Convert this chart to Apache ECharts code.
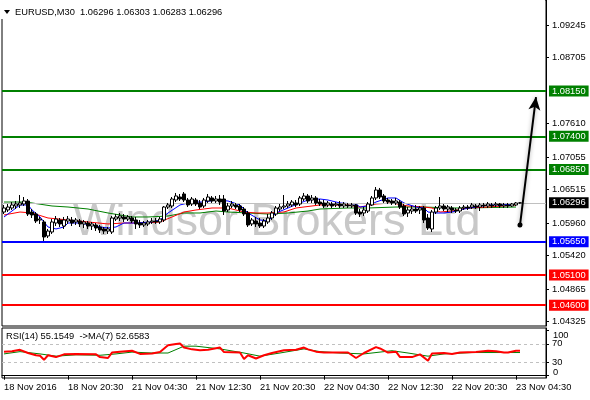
<!DOCTYPE html>
<html><head><meta charset="utf-8">
<script src="https://cdn.jsdelivr.net/npm/echarts@6/dist/echarts.min.js"></script>
<style>html,body{margin:0;padding:0;background:#fff}#c{width:590px;height:400px}</style>
</head><body><div id="c"></div>
<script>
// ---- data ----
const tickLabels = ["18 Nov 2016","18 Nov 20:30","21 Nov 04:30","21 Nov 12:30","21 Nov 20:30","22 Nov 04:30","22 Nov 12:30","22 Nov 20:30","23 Nov 04:30"];
const opens = [1.06144,1.06178,1.06211,1.06244,1.06261,1.06277,1.06327,1.06144,1.06111,1.06012,
1.05979,1.05747,1.05813,1.05962,1.06012,1.05912,1.05995,1.06012,1.05979,1.05995,
1.05946,1.05962,1.05912,1.05929,1.05896,1.05863,1.05829,1.05813,1.06028,1.06045,
1.06062,1.06028,1.06045,1.06012,1.05962,1.05929,1.05946,1.05979,1.05995,1.05979,
1.06012,1.06227,1.06244,1.06343,1.06393,1.06443,1.06343,1.06277,1.06343,1.06294,
1.06244,1.06327,1.06377,1.06327,1.06360,1.06360,1.06178,1.06244,1.06261,1.06244,
1.06194,1.06128,1.05946,1.05995,1.05962,1.05912,1.05979,1.06045,1.06111,1.06194,
1.06227,1.06244,1.06261,1.06294,1.06277,1.06360,1.06410,1.06343,1.06377,1.06310,
1.06294,1.06261,1.06277,1.06261,1.06277,1.06244,1.06261,1.06244,1.06261,1.06144,
1.06128,1.06161,1.06261,1.06377,1.06509,1.06410,1.06343,1.06327,1.06294,1.06310,
1.06244,1.06128,1.06161,1.06194,1.06178,1.06211,1.06045,1.05863,1.06144,1.06211,
1.06244,1.06194,1.06211,1.06178,1.06161,1.06211,1.06227,1.06227,1.06244,1.06227,
1.06261,1.06244,1.06261,1.06261,1.06277,1.06244,1.06261,1.06244,1.06261,1.06296];
const closes = [1.06211,1.06227,1.06261,1.06277,1.06294,1.06327,1.06111,1.06095,1.05995,1.06028,
1.05730,1.05829,1.05979,1.06028,1.05946,1.06012,1.06028,1.05962,1.06012,1.05946,
1.05979,1.05912,1.05946,1.05879,1.05846,1.05829,1.05863,1.06045,1.06062,1.06078,
1.06028,1.06062,1.05995,1.05946,1.05929,1.05962,1.05979,1.05995,1.05979,1.06028,
1.06227,1.06261,1.06360,1.06410,1.06360,1.06343,1.06261,1.06360,1.06277,1.06227,
1.06343,1.06393,1.06327,1.06360,1.06310,1.06161,1.06244,1.06277,1.06227,1.06178,
1.06111,1.05929,1.06012,1.05946,1.05912,1.05995,1.06045,1.06128,1.06211,1.06227,
1.06244,1.06277,1.06310,1.06261,1.06377,1.06410,1.06327,1.06377,1.06294,1.06277,
1.06244,1.06294,1.06244,1.06277,1.06244,1.06277,1.06244,1.06261,1.06128,1.06111,
1.06178,1.06277,1.06377,1.06509,1.06393,1.06327,1.06310,1.06294,1.06327,1.06227,
1.06111,1.06178,1.06194,1.06161,1.06211,1.06012,1.05879,1.06144,1.06211,1.06244,
1.06194,1.06227,1.06178,1.06161,1.06211,1.06227,1.06211,1.06261,1.06227,1.06261,
1.06244,1.06277,1.06244,1.06277,1.06244,1.06261,1.06244,1.06277,1.06294,1.06296];
const lows = [1.06111,1.06144,1.06178,1.06194,1.06211,1.06244,1.06078,1.06045,1.05962,1.05946,
1.05664,1.05713,1.05780,1.05912,1.05896,1.05863,1.05946,1.05912,1.05929,1.05896,
1.05879,1.05863,1.05846,1.05829,1.05796,1.05780,1.05780,1.05780,1.05995,1.05995,
1.05979,1.05995,1.05962,1.05863,1.05879,1.05896,1.05912,1.05946,1.05946,1.05946,
1.05979,1.06194,1.06211,1.06310,1.06327,1.06310,1.06227,1.06244,1.06244,1.06194,
1.06211,1.06294,1.06294,1.06294,1.06261,1.06095,1.06144,1.06211,1.06194,1.06144,
1.06078,1.05896,1.05912,1.05896,1.05879,1.05879,1.05946,1.06012,1.06078,1.06161,
1.06194,1.06211,1.06227,1.06227,1.06244,1.06327,1.06294,1.06294,1.06261,1.06244,
1.06211,1.06227,1.06211,1.06227,1.06211,1.06211,1.06211,1.06211,1.06095,1.06062,
1.06078,1.06128,1.06244,1.06343,1.06360,1.06294,1.06277,1.06261,1.06261,1.06194,
1.06078,1.06062,1.06111,1.06128,1.06111,1.05962,1.05846,1.05813,1.06111,1.06178,
1.06161,1.06144,1.06128,1.06128,1.06128,1.06178,1.06178,1.06194,1.06194,1.06161,
1.06211,1.06211,1.06211,1.06227,1.06211,1.06211,1.06211,1.06227,1.06244,1.06283];
const highs = [1.06261,1.06277,1.06310,1.06327,1.06426,1.06393,1.06360,1.06194,1.06144,1.06062,
1.06012,1.05863,1.06028,1.06078,1.06045,1.06062,1.06078,1.06062,1.06045,1.06028,
1.06012,1.05995,1.05979,1.05962,1.05929,1.05896,1.05896,1.06078,1.06111,1.06128,
1.06111,1.06095,1.06078,1.06062,1.06012,1.05995,1.06012,1.06045,1.06045,1.06062,
1.06244,1.06294,1.06393,1.06460,1.06443,1.06476,1.06377,1.06393,1.06377,1.06343,
1.06377,1.06443,1.06410,1.06410,1.06426,1.06426,1.06294,1.06327,1.06294,1.06277,
1.06227,1.06161,1.06045,1.06062,1.06045,1.06028,1.06111,1.06161,1.06244,1.06277,
1.06426,1.06327,1.06343,1.06343,1.06410,1.06460,1.06443,1.06426,1.06410,1.06360,
1.06343,1.06327,1.06310,1.06310,1.06327,1.06310,1.06294,1.06294,1.06277,1.06194,
1.06227,1.06310,1.06410,1.06559,1.06543,1.06443,1.06377,1.06360,1.06377,1.06343,
1.06277,1.06227,1.06244,1.06261,1.06244,1.06244,1.06111,1.06178,1.06244,1.06393,
1.06277,1.06261,1.06244,1.06211,1.06244,1.06261,1.06261,1.06294,1.06277,1.06294,
1.06294,1.06310,1.06294,1.06310,1.06294,1.06294,1.06294,1.06294,1.06310,1.06303];
// moving averages on the price chart: [bar index, value]
const maFast = [[0,1.06062],[4,1.06261],[6,1.06261],[7,1.06178],[9,1.06062],[11,1.05896],[13,1.05863],[15,1.05896],[16,1.05962],[19,1.05962],[24,1.05896],[26,1.05879],[28,1.05896],[30,1.05962],[33,1.05962],[37,1.05979],[39,1.06012],[41,1.06128],[44,1.06261],[47,1.06310],[50,1.06310],[53,1.06343],[56,1.06327],[59,1.06261],[61,1.06128],[64,1.06012],[66,1.05995],[68,1.06128],[71,1.06211],[74,1.06294],[76,1.06343],[79,1.06360],[81,1.06343],[84,1.06294],[88,1.06277],[89,1.06227],[91,1.06244],[93,1.06310],[96,1.06377],[98,1.06377],[100,1.06294],[103,1.06227],[105,1.06211],[106,1.06144],[108,1.06128],[110,1.06128],[112,1.06144],[115,1.06194],[118,1.06227],[121,1.06261],[124,1.06261],[128,1.06277]];
const maMid = [[0,1.06095],[4,1.06144],[7,1.06128],[11,1.06045],[16,1.06012],[21,1.05979],[26,1.05946],[30,1.05962],[35,1.05962],[39,1.05979],[42,1.06062],[45,1.06144],[48,1.06178],[52,1.06211],[56,1.06211],[60,1.06144],[63,1.06128],[66,1.06128],[70,1.06144],[73,1.06211],[79,1.06261],[83,1.06261],[86,1.06261],[89,1.06227],[93,1.06277],[97,1.06294],[101,1.06244],[105,1.06227],[107,1.06211],[109,1.06144],[112,1.06161],[116,1.06211],[121,1.06227],[128,1.06261]];
const maSlow = [[0,1.06310],[5,1.06310],[7,1.06294],[12,1.06244],[16,1.06227],[21,1.06194],[26,1.06128],[32,1.06062],[36,1.06062],[41,1.06078],[45,1.06128],[49,1.06128],[53,1.06161],[56,1.06144],[61,1.06128],[66,1.06111],[71,1.06128],[76,1.06161],[79,1.06194],[86,1.06211],[91,1.06211],[98,1.06227],[105,1.06227],[112,1.06211],[116,1.06211],[128,1.06227]];
const greenLevels = [1.08150, 1.07400, 1.06850];
const blueLevels = [1.05650];
const redLevels = [1.05100, 1.04600];
const bidPrice = 1.06296;
const priceTicks = [1.09245, 1.08705, 1.07610, 1.07055, 1.06515, 1.05960, 1.05420, 1.04865, 1.04325];
const arrowStart = [129, 1.05929];
const arrowEnd = [133, 1.08050];
// RSI(14) and its MA(7): [bar index, value]
const rsi = [[0,53],[2,54],[4,57],[6,50],[8,45],[9,44],[10,35],[11,45],[13,41],[15,47],[18,48],[23,47],[24,41],[26,39],[27,51],[29,53],[32,55],[34,48],[37,49],[39,52],[41,67],[43,70],[44,71],[45,62],[47,58],[49,56],[51,57],[54,62],[55,52],[59,51],[60,37],[61,45],[63,38],[65,45],[67,50],[70,56],[73,57],[75,62],[76,58],[78,53],[80,51],[86,51],[88,39],[90,50],[93,63],[94,60],[96,51],[98,53],[99,41],[102,41],[104,47],[106,33],[107,49],[110,50],[112,48],[114,51],[118,52],[121,55],[123,54],[125,51],[126,51],[128,55],[129,55]];
const rsiMa = [[0,48],[4,53],[9,48],[13,43],[18,46],[24,45],[28,48],[32,52],[37,50],[41,50],[45,65],[48,65],[54,59],[60,50],[64,43],[69,50],[75,59],[79,53],[84,50],[90,48],[97,55],[101,50],[106,43],[110,48],[117,51],[129,51]];
const rsiTicks = [0, 30, 70, 100];
const rsiInnerLabels = [30, 70];
const rsiLevels = [70, 30];

// ---- time categories (30-minute bars, weekend skipped) ----
const SLOTS = 136;
const cats = [];
let t = Date.UTC(2016, 10, 18, 12, 30);
for (let i = 0; i < SLOTS; i++) {
  const d = new Date(t);
  cats.push(d.toISOString().slice(0, 16));
  t += 30 * 60000;
  const wd = new Date(t).getUTCDay();
  if (wd === 6) t += 2 * 86400000;
}

const FONT = 'Liberation Sans';
const FS = 9.3;
const candles = opens.map((o, i) => [o, closes[i], lows[i], highs[i]]);

function level(v, color, w) {
  return {
    yAxis: v,
    lineStyle: { color: color, width: w, type: 'solid' },
    label: { show: true, position: 'end', distance: 3, formatter: v.toFixed(5), color: '#fff',
      backgroundColor: color === '#c0c0c0' ? '#000' : color, padding: [1, 3, 0, 3],
      fontFamily: FONT, fontSize: FS, lineHeight: 10 }
  };
}
const levelData = []
  .concat(greenLevels.map(v => level(v, '#008000', 2)))
  .concat(blueLevels.map(v => level(v, '#0000ff', 2)))
  .concat(redLevels.map(v => level(v, '#ff0000', 2)))
  .concat([level(bidPrice, '#c0c0c0', 1)]);

const chart = echarts.init(document.getElementById('c'), null, { renderer: 'canvas' });
const tickInterval = (idx) => idx % 16 === 0 && idx / 16 < tickLabels.length;

chart.setOption({
  animation: false,
  backgroundColor: '#fff',
  textStyle: { fontFamily: FONT },
  grid: [
    { left: 2, top: 0, width: 544, height: 326, show: true, borderColor: '#000', borderWidth: 1, backgroundColor: 'transparent', outerBoundsMode: 'none' },
    { left: 2, top: 328, width: 544, height: 50, show: true, borderColor: '#000', borderWidth: 1, backgroundColor: 'transparent', outerBoundsMode: 'none' }
  ],
  xAxis: [
    { type: 'category', gridIndex: 0, data: cats, boundaryGap: true, axisLine: { show: false }, axisTick: { show: false }, axisLabel: { show: false }, splitLine: { show: false } },
    { type: 'category', gridIndex: 1, data: cats, boundaryGap: true,
      axisLine: { show: true, lineStyle: { color: '#000' } },
      axisTick: { show: true, interval: tickInterval, alignWithLabel: true, length: 4, lineStyle: { color: '#000' } },
      axisLabel: { show: true, interval: tickInterval, align: 'left', margin: 5, color: '#000', fontFamily: FONT, fontSize: FS,
        formatter: (val, idx) => tickLabels[idx / 16] },
      splitLine: { show: false } }
  ],
  yAxis: [
    { type: 'value', gridIndex: 0, position: 'right', min: 1.04254, max: 1.09660,
      axisLine: { show: true, lineStyle: { color: '#000' } },
      axisTick: { show: true, customValues: priceTicks, length: 3, lineStyle: { color: '#000' } },
      axisLabel: { show: true, customValues: priceTicks, margin: 6, color: '#000', fontFamily: FONT, fontSize: FS, formatter: v => v.toFixed(5) },
      splitLine: { show: false } },
    { type: 'value', gridIndex: 1, position: 'right', min: -5, max: 105,
      axisLine: { show: true, lineStyle: { color: '#000' } },
      axisTick: { show: true, customValues: rsiTicks, length: 3, lineStyle: { color: '#000' } },
      axisLabel: { show: true, customValues: rsiInnerLabels, margin: 6, color: '#000', fontFamily: FONT, fontSize: FS },
      splitLine: { show: false } }
  ],
  graphic: [
    { type: 'text', left: 73, top: 200, z: 1, silent: true,
      style: { text: 'Windsor Brokers Ltd', fill: '#c8c8c8', font: '45px "Liberation Sans"' } },
    { type: 'rect', shape: { x: 0, y: 0, width: 232, height: 19 }, style: { fill: '#fff' }, z: 10, silent: true },
    { type: 'rect', shape: { x: 0, y: 0, width: 545, height: 1 }, style: { fill: '#fff' }, z: 10, silent: true },
    { type: 'polygon', shape: { points: [[4, 10], [10, 10], [7, 14]] }, style: { fill: '#000' }, z: 11 },
    { type: 'text', x: 15, y: 12, z: 11, style: { text: 'EURUSD,M30  1.06296 1.06303 1.06283 1.06296', fill: '#000', font: FS + 'px "Liberation Sans"', verticalAlign: 'middle' } },
    { type: 'text', x: 6, y: 336, z: 11, style: { text: 'RSI(14) 55.1549  ->MA(7) 52.6583', fill: '#000', font: FS + 'px "Liberation Sans"', verticalAlign: 'middle' } },
    { type: 'text', x: 553, y: 335, z: 11, style: { text: String(rsiTicks[3]), fill: '#000', font: FS + 'px "Liberation Sans"', verticalAlign: 'middle' } },
    { type: 'text', x: 553, y: 372, z: 11, style: { text: String(rsiTicks[0]), fill: '#000', font: FS + 'px "Liberation Sans"', verticalAlign: 'middle' } }
  ],
  series: [
    { type: 'candlestick', xAxisIndex: 0, yAxisIndex: 0, data: candles, barWidth: 3, z: 5,
      itemStyle: { color: '#fff', color0: '#000', borderColor: '#000', borderColor0: '#000', borderWidth: 1 },
      markLine: { silent: true, symbol: 'none', animation: false, precision: 5, data: levelData }
    },
    { type: 'line', xAxisIndex: 0, yAxisIndex: 0, data: maSlow, symbol: 'none', z: 4, lineStyle: { color: '#008000', width: 1 } },
    { type: 'line', xAxisIndex: 0, yAxisIndex: 0, data: maMid, symbol: 'none', z: 4, lineStyle: { color: '#ff0000', width: 1 } },
    { type: 'line', xAxisIndex: 0, yAxisIndex: 0, data: maFast, symbol: 'none', z: 4, lineStyle: { color: '#0000ff', width: 1 },
      markLine: { silent: true, animation: false, label: { show: false },
        lineStyle: { color: '#000', width: 2, type: 'solid', shadowBlur: 4, shadowColor: 'rgba(0,0,0,0.35)' },
        data: [[{ coord: arrowStart, symbol: 'circle', symbolSize: 5 }, { coord: arrowEnd, symbol: 'arrow', symbolSize: [9, 13] }]] } },
    { type: 'line', xAxisIndex: 1, yAxisIndex: 1, data: rsiMa, symbol: 'none', z: 4, lineStyle: { color: '#008000', width: 1 },
      markLine: { silent: true, symbol: 'none', animation: false, label: { show: false },
        lineStyle: { color: '#c0c0c0', width: 1, type: [3, 3] },
        data: rsiLevels.map(v => ({ yAxis: v })) } },
    { type: 'line', xAxisIndex: 1, yAxisIndex: 1, data: rsi, symbol: 'none', z: 5, lineStyle: { color: '#ff0000', width: 2 } }
  ]
});
</script>
</body></html>
